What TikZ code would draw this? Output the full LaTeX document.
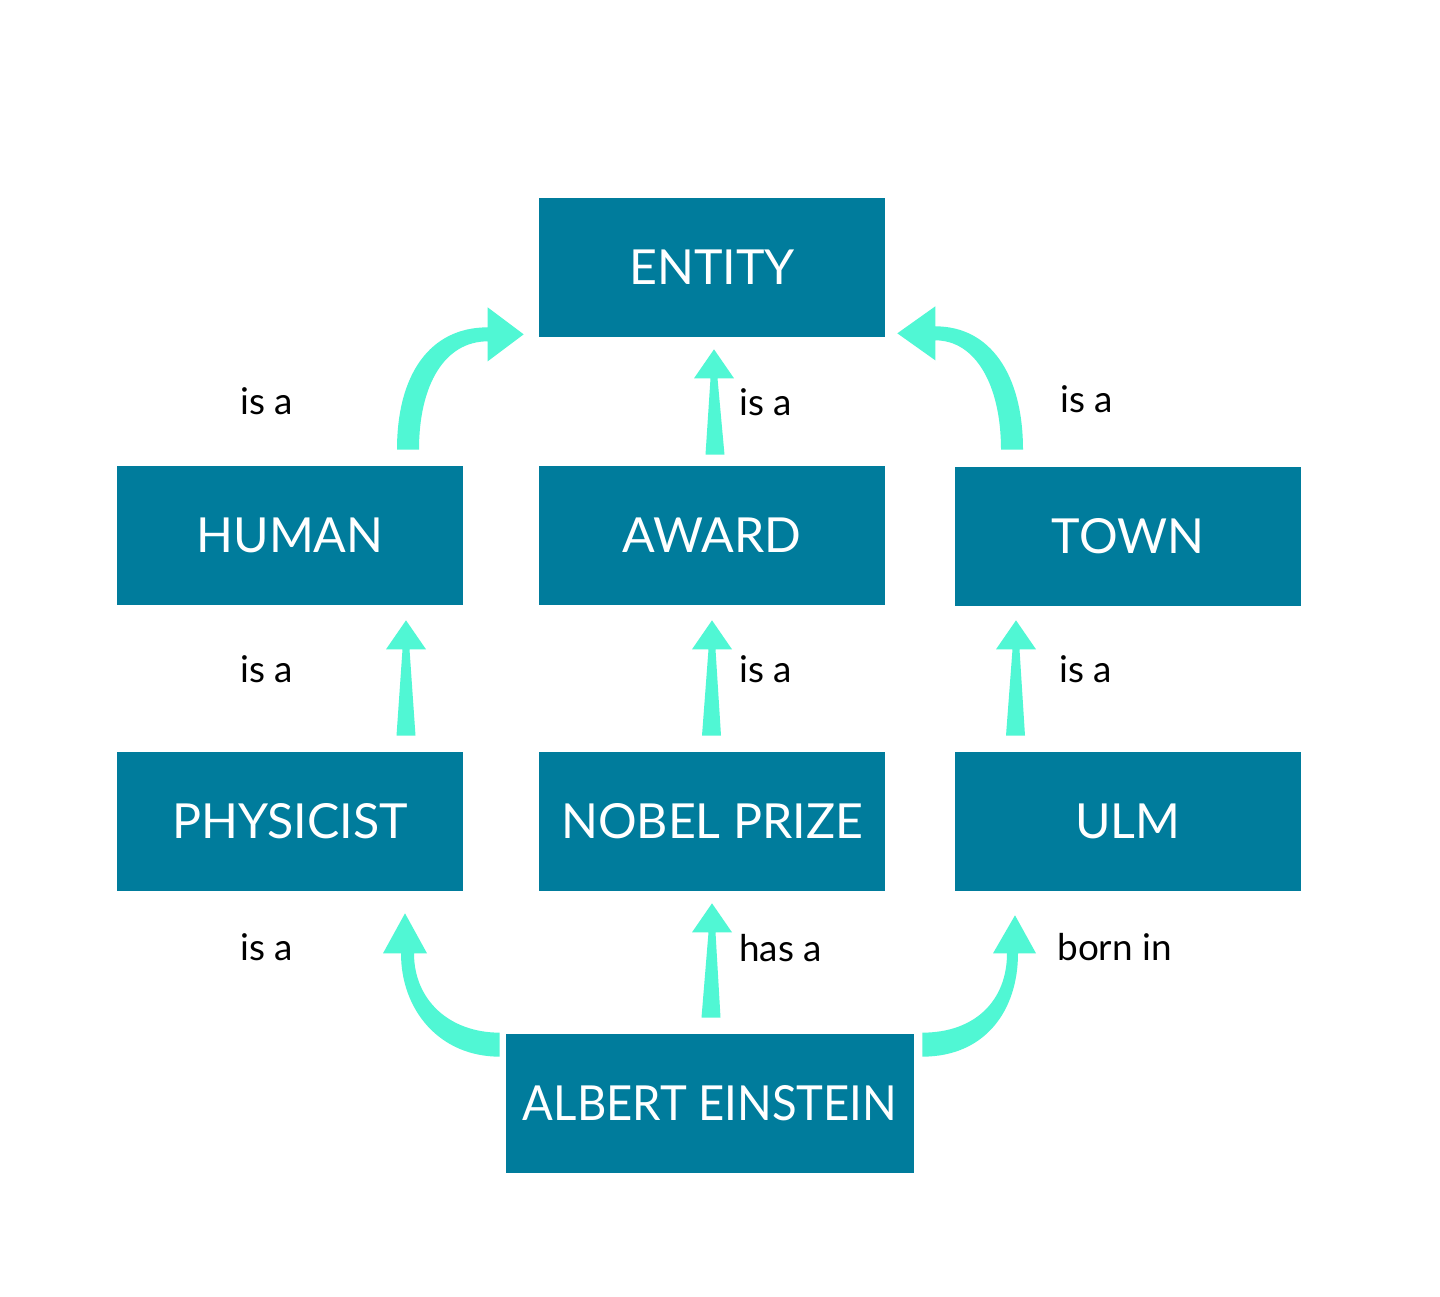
\documentclass[tikz,border=0pt]{standalone}
\usepackage{fontspec}
\usepackage{graphicx}
\setmainfont{Lato}
\usetikzlibrary{calc}
\definecolor{boxc}{RGB}{0,124,156}
\definecolor{arrc}{RGB}{80,247,212}
\tikzset{
  box/.style={fill=boxc, text=white, minimum width=6.92cm, minimum height=2.78cm, inner sep=0pt, font=\fontsize{27.5}{33}\selectfont},
  lbl/.style={anchor=base west, inner sep=0pt, text=black, font=\fontsize{21}{25}\selectfont},
  conn/.style={fill=arrc, draw=none}
}
\newcommand\taperarrow[2]{%
  \fill[conn] ($(#1)+(-9.5,0)$) -- ($(#2)+(-3.5,29)$) -- ($(#2)+(-20,29)$) -- (#2)
    -- ($(#2)+(20,29)$) -- ($(#2)+(3.5,29)$) -- ($(#1)+(9.5,0)$) -- cycle;}
\begin{document}
\begin{tikzpicture}[x=0.02cm, y=-0.02cm]
\useasboundingbox (0,0) rectangle (1440,1297);
\fill[white] (0,0) rectangle (1440,1297);
% nodes
\node[box] (entity) at (712,267.5) {ENTITY};
\node[box] (human) at (290,535.5) {HUMAN};
\node[box] (award) at (712,535.5) {AWARD};
\node[box] (town) at (1128,536.5) {TOWN};
\node[box] (physicist) at (290,821.5) {PHYSICIST};
\node[box] (nobel) at (712,821.5) {NOBEL PRIZE};
\node[box] (ulm) at (1128,821.5) {ULM};
\node[box, minimum width=8.16cm] (einstein) at (710,1103.5) {\raisebox{-0.1cm}{\scalebox{0.94}[1]{ALBERT EINSTEIN}}};
% labels
\node[lbl] (l1) at (240,415) {is a};
\node[lbl] (l2) at (739,416) {is a};
\node[lbl] (l3) at (1060,413) {is a};
\node[lbl] (l4) at (240,682) {is a};
\node[lbl] (l5) at (739,682) {is a};
\node[lbl] (l6) at (1059,682) {is a};
\node[lbl] (l7) at (240,960) {is a};
\node[lbl] (l8) at (739,961) {has a};
\node[lbl] (l9) at (1057,960) {born in};
% straight connectors
\coordinate (a1b) at ($(award.north)+(3,-11)$);
\coordinate (a1t) at ($(entity.south)+(2,12)$);
\taperarrow{a1b}{a1t}
\coordinate (a2b) at ($(physicist.north)+(116,-16)$);
\coordinate (a2t) at ($(human.south)+(116,15)$);
\taperarrow{a2b}{a2t}
\coordinate (a3b) at ($(nobel.north)+(-0.5,-16)$);
\coordinate (a3t) at ($(award.south)+(0,15)$);
\taperarrow{a3b}{a3t}
\coordinate (a4b) at ($(ulm.north)+(-112.5,-16)$);
\coordinate (a4t) at ($(town.south)+(-112,14)$);
\taperarrow{a4b}{a4t}
\coordinate (a5b) at ($(einstein.north)+(1,-16)$);
\coordinate (a5t) at ($(nobel.south)+(0,12)$);
\taperarrow{a5b}{a5t}
% curved connectors
% human -> entity
\coordinate (S1) at ($(human.north)+(118,-16)$);
\coordinate (T1) at ($(entity.south west)+(-15,-3)$);
\fill[conn] ($(S1)+(-11,0)$) .. controls ($(S1)+(-11,-75)$) and ($(T1)+(-94,-7)$) .. ($(T1)+(-36,-7)$)
  -- ($(T1)+(-36,-27)$) -- (T1) -- ($(T1)+(-36,27)$) -- ($(T1)+(-36,7)$)
  .. controls ($(T1)+(-79,7)$) and ($(S1)+(11,-65)$) .. ($(S1)+(11,0)$) -- cycle;
% town -> entity
\coordinate (S2) at ($(town.north)+(-116,-17)$);
\coordinate (T2) at ($(entity.south east)+(12,-4)$);
\fill[conn] ($(S2)+(11,0)$) .. controls ($(S2)+(11,-75)$) and ($(T2)+(93,-7)$) .. ($(T2)+(38,-7)$)
  -- ($(T2)+(38,-27)$) -- (T2) -- ($(T2)+(38,27)$) -- ($(T2)+(38,7)$)
  .. controls ($(T2)+(78,7)$) and ($(S2)+(-11,-65)$) .. ($(S2)+(-11,0)$) -- cycle;
% einstein -> physicist
\coordinate (S3) at ($(einstein.north west)+(-6,11)$);
\coordinate (T3) at ($(physicist.south)+(115,22)$);
\fill[conn] ($(S3)+(0,12)$) .. controls ($(S3)+(-60,12)$) and ($(T3)+(-4,97)$) .. ($(T3)+(-4,40)$)
  -- ($(T3)+(-22,40)$) -- (T3) -- ($(T3)+(22,40)$) -- ($(T3)+(9,40)$)
  .. controls ($(T3)+(9,87)$) and ($(S3)+(-50,-12)$) .. ($(S3)+(0,-12)$) -- cycle;
% einstein -> ulm
\coordinate (S4) at ($(einstein.north east)+(8,11)$);
\coordinate (T4) at ($(ulm.south)+(-113,24)$);
\fill[conn] ($(S4)+(0,12)$) .. controls ($(S4)+(63,12)$) and ($(T4)+(3,95)$) .. ($(T4)+(3,38)$)
  -- ($(T4)+(21,38)$) -- (T4) -- ($(T4)+(-22,38)$) -- ($(T4)+(-8,38)$)
  .. controls ($(T4)+(-8,85)$) and ($(S4)+(53,-12)$) .. ($(S4)+(0,-12)$) -- cycle;
\end{tikzpicture}
\end{document}
